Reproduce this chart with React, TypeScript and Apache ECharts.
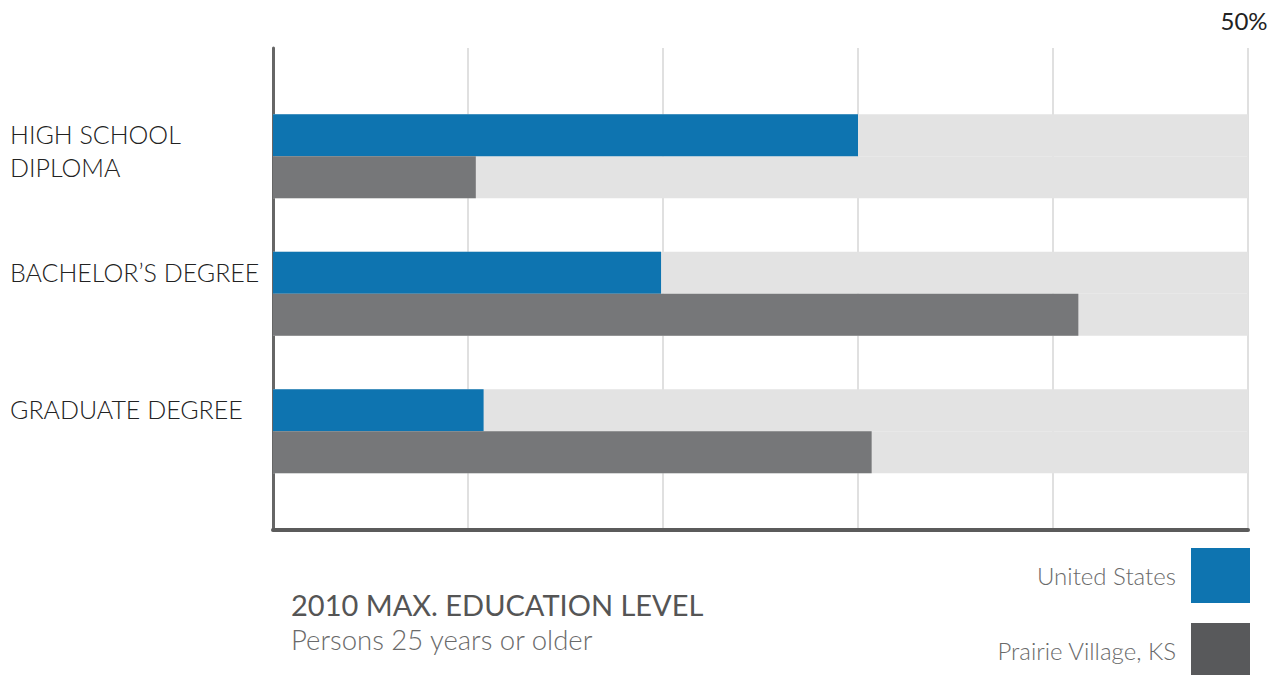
import React, { useEffect, useRef } from "react";
import * as echarts from "echarts";

const categories = ["HIGH SCHOOL\nDIPLOMA", "BACHELOR\u2019S DEGREE", "GRADUATE DEGREE"];
const usValues = [30.0, 19.9, 10.8];
const pvValues = [10.4, 41.3, 30.7];
const seriesNames = ["United States", "Prairie Village, KS"];
const legendColors = ["#0e74b0", "#58595b"];
const axisMax = 50;
const axisInterval = 10;
const titleText = "2010 MAX. EDUCATION LEVEL";
const subText = "Persons 25 years or older";

const FONT = "Lato, 'Noto Sans', sans-serif";

export default function App() {
  const ref = useRef<HTMLDivElement>(null);
  useEffect(() => {
    if (!ref.current) return;
    const chart = echarts.init(ref.current, undefined, { renderer: "svg" });
    const left = 273;
    const right = 33;
    const legendBase = {
      orient: "vertical",
      right: 31,
      padding: 0,
      itemWidth: 59,
      itemHeight: 55,
      align: "right",
      icon: "rect",
      textStyle: { fontFamily: FONT, fontSize: 24, fontWeight: 300, color: "#6a6a6a", padding: [0, 10, 0, 0] },
    };
    chart.setOption({
      animation: false,
      backgroundColor: "#ffffff",
      textStyle: { fontFamily: FONT },
      title: {
        text: titleText,
        subtext: subText,
        left: 286,
        top: 585,
        itemGap: 6,
        textStyle: { fontFamily: FONT, fontSize: 29, fontWeight: "normal", color: "#555555" },
        subtextStyle: { fontFamily: FONT, fontSize: 27.5, fontWeight: 300, color: "#6a6a6a" },
      },
      legend: [
        {
          ...legendBase,
          top: 548,
          data: [{ name: seriesNames[0], itemStyle: { color: legendColors[0] } }],
        },
        {
          ...legendBase,
          top: 623,
          data: [{ name: seriesNames[1], itemStyle: { color: legendColors[1] } }],
        },
      ],
      grid: [
        { left, right, top: 48, bottom: 145 },
        { left, right, top: 87.5, height: 412.5 },
      ],
      xAxis: [
        {
          type: "value",
          gridIndex: 0,
          min: 0,
          max: axisMax,
          interval: axisInterval,
          axisLine: { show: true, lineStyle: { color: "#5b5b5b", width: 4 } },
          axisTick: { show: false },
          axisLabel: { show: false },
          splitLine: { show: true, lineStyle: { color: "#e0e0e0", width: 2 } },
        },
        {
          type: "value",
          gridIndex: 0,
          position: "top",
          min: 0,
          max: axisMax,
          interval: axisInterval,
          axisLine: { show: false },
          axisTick: { show: false },
          splitLine: { show: false },
          axisLabel: {
            show: true,
            margin: 16,
            fontFamily: FONT,
            fontSize: 24,
            color: "#222222",
            padding: [0, 8, 0, 0],
            formatter: (v: number) => (v === axisMax ? v + "%" : ""),
          },
        },
        {
          type: "value",
          gridIndex: 1,
          min: 0,
          max: axisMax,
          show: false,
        },
      ],
      yAxis: [
        {
          type: "value",
          gridIndex: 0,
          min: 0,
          max: 1,
          axisLine: { show: true, lineStyle: { color: "#666666", width: 3 } },
          axisTick: { show: false },
          axisLabel: { show: false },
          splitLine: { show: false },
        },
        {
          type: "category",
          gridIndex: 1,
          inverse: true,
          data: categories,
          axisLine: { show: false },
          axisTick: { show: false },
          axisLabel: { show: false },
          splitLine: { show: false },
        },
      ],
      series: [
        {
          name: seriesNames[0],
          type: "bar",
          xAxisIndex: 2,
          yAxisIndex: 1,
          data: usValues,
          barWidth: 42,
          barGap: "0%",
          itemStyle: { color: "#0e74b0" },
          showBackground: true,
          backgroundStyle: { color: "#e3e3e3" },
          label: {
            show: true,
            position: [-263, 3.5],
            align: "left",
            verticalAlign: "top",
            fontFamily: FONT,
            fontSize: 25,
            fontWeight: 300,
            lineHeight: 33,
            color: "#222222",
            formatter: (p: any) => p.name,
          },
        },
        {
          name: seriesNames[1],
          type: "bar",
          xAxisIndex: 2,
          yAxisIndex: 1,
          data: pvValues,
          barWidth: 42,
          barGap: "0%",
          itemStyle: { color: "#767779" },
          showBackground: true,
          backgroundStyle: { color: "#e3e3e3" },
        },
      ],
    });
    return () => chart.dispose();
  }, []);
  return (
    <div
      ref={ref}
      style={{ position: "fixed", left: 0, top: 0, width: 1281, height: 675 }}
    />
  );
}
